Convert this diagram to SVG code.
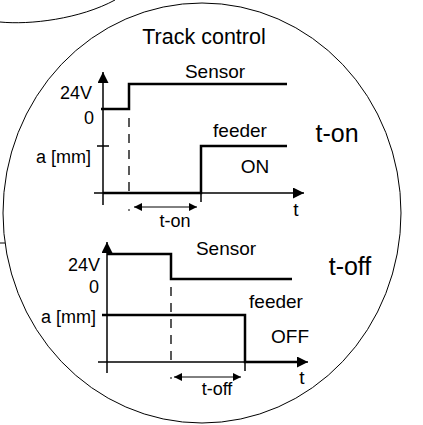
<svg xmlns="http://www.w3.org/2000/svg" width="423" height="425" viewBox="0 0 423 425">
<defs>
<style>
text{font-family:"Liberation Sans",Arial,sans-serif;fill:#000}
.ax{stroke:#000;stroke-width:1.5;fill:none}
.sig{stroke:#000;stroke-width:2.5;fill:none}
.dash{stroke:#000;stroke-width:1.3;stroke-dasharray:9,7;fill:none}
.thin{stroke:#000;stroke-width:1;fill:none}
</style>
<marker id="ah" viewBox="0 0 10 10" refX="10" refY="5" markerWidth="11" markerHeight="11" markerUnits="userSpaceOnUse" orient="auto-start-reverse">
<path d="M0,0 L10,5 L0,10 z" fill="#000"/>
</marker>
<marker id="dh" viewBox="0 0 10 10" refX="10" refY="5" markerWidth="10" markerHeight="8" markerUnits="userSpaceOnUse" orient="auto-start-reverse">
<path d="M0,0 L10,5 L0,10 z" fill="#000"/>
</marker>
</defs>
<rect width="423" height="425" fill="#fff"/>
<g id="background">
<path d="M0,22 C30,25 80,19 115,0" class="thin"/>
<ellipse cx="202" cy="213" rx="199" ry="210" class="thin"/>
<line x1="0" y1="243" x2="5" y2="243" class="thin"/>
<text x="204" y="44" font-size="21.5" text-anchor="middle">Track control</text>
</g>
<g id="chart-on">
<line x1="103" y1="205" x2="103" y2="72" class="ax" marker-end="url(#ah)"/>
<line x1="94" y1="193" x2="304" y2="193" class="ax" marker-end="url(#ah)"/>
<line x1="97" y1="146" x2="109" y2="146" class="ax"/>
<polyline points="101,109 129,109 129,84 287,84" class="sig"/>
<polyline points="103,193 201,193 201,146 287,146" class="sig"/>
<line x1="201" y1="193" x2="201" y2="202" class="ax"/>
<line x1="129" y1="118" x2="129" y2="193" class="dash"/>
<line x1="129" y1="209" x2="129" y2="211" class="thin"/>
<line x1="134" y1="207" x2="197" y2="207" class="thin" marker-start="url(#dh)" marker-end="url(#dh)"/>
<text x="215" y="78" font-size="19" text-anchor="middle">Sensor</text>
<text x="92" y="99" font-size="18" text-anchor="end">24V</text>
<text x="94" y="124" font-size="18" text-anchor="end">0</text>
<text x="91" y="163" font-size="18" text-anchor="end">a [mm]</text>
<text x="240" y="137" font-size="19" text-anchor="middle">feeder</text>
<text x="255" y="173" font-size="19" text-anchor="middle">ON</text>
<text x="296" y="216" font-size="19" text-anchor="middle">t</text>
<text x="175" y="227" font-size="18" text-anchor="middle">t-on</text>
<text x="337" y="142" font-size="25" text-anchor="middle">t-on</text>
</g>
<g id="chart-off">
<line x1="107" y1="373" x2="107" y2="242" class="ax" marker-end="url(#ah)"/>
<line x1="98" y1="362" x2="308" y2="362" class="ax" marker-end="url(#ah)"/>
<polyline points="107,254 171,254 171,279 292,279" class="sig"/>
<polyline points="102,315 245,315 245,362 297,362" class="sig"/>
<line x1="245" y1="362" x2="245" y2="371" class="ax"/>
<line x1="171" y1="287" x2="171" y2="362" class="dash"/>
<line x1="171" y1="377" x2="171" y2="379" class="thin"/>
<line x1="174" y1="377" x2="241" y2="377" class="thin" marker-start="url(#dh)" marker-end="url(#dh)"/>
<text x="226" y="255" font-size="19" text-anchor="middle">Sensor</text>
<text x="100" y="271" font-size="18" text-anchor="end">24V</text>
<text x="99" y="293" font-size="18" text-anchor="end">0</text>
<text x="96" y="323" font-size="18" text-anchor="end">a [mm]</text>
<text x="276" y="308" font-size="19" text-anchor="middle">feeder</text>
<text x="290" y="343" font-size="19" text-anchor="middle">OFF</text>
<text x="302" y="384" font-size="19" text-anchor="middle">t</text>
<text x="217" y="395" font-size="18" text-anchor="middle">t-off</text>
<text x="350" y="275" font-size="25" text-anchor="middle">t-off</text>
</g>
</svg>
